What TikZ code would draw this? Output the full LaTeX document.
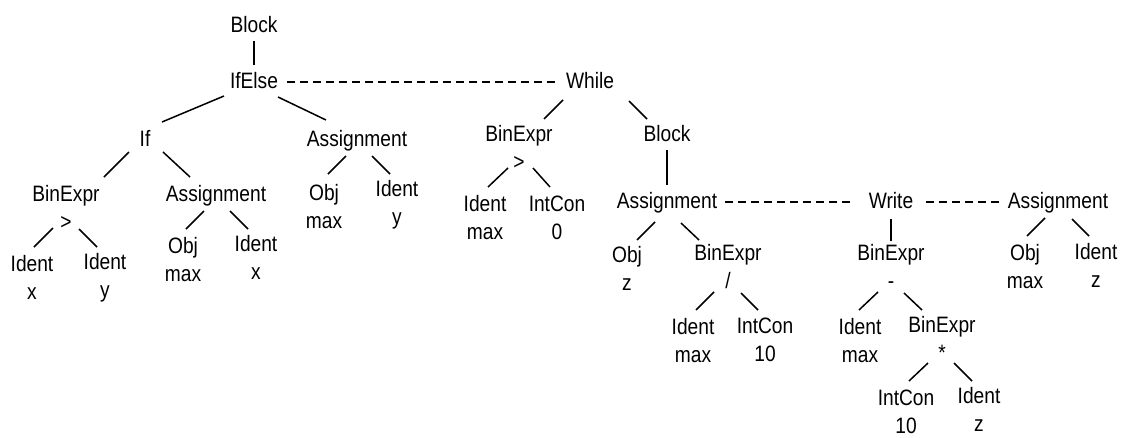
\documentclass[tikz,border=0pt]{standalone}
\usepackage{fontspec}
\setmainfont[FakeStretch=0.86]{Liberation Sans}
\tikzset{
    ast/.style={anchor=base, inner sep=2pt, text height=17pt, text depth=5pt,
        font=\fontsize{22.3pt}{27pt}\selectfont},
    edge/.style={line width=1.5pt},
    seq/.style={line width=1.5pt, dash pattern=on 8pt off 5pt,
        shorten <=7pt, shorten >=7pt}
}
\begin{document}
\begin{tikzpicture}[x=1pt, y=-1pt]
    \useasboundingbox (0,0) rectangle (1124,437);
    \node[ast] (root) at (254,32) {Block};
    \node[ast] (ifelse) at (254,88) {IfElse};
    \node[ast] (while) at (590,88) {While};
    \node[ast] (ifn) at (145,146) {If};
    \node[ast] (asgA) at (357,146) {Assignment};
    \node[ast] (binA) at (66,201) {BinExpr};
    \node[ast] (binAop) at ([yshift=-28pt]binA.base) {>};
    \node[ast] (asgB) at (216,201) {Assignment};
    \node[ast] (objA) at (324,200) {Obj};
    \node[ast] at ([yshift=-28pt]objA.base) {max};
    \node[ast] (idA) at (397,196) {Ident};
    \node[ast] at ([yshift=-28pt]idA.base) {y};
    \node[ast] (idX) at (32,271) {Ident};
    \node[ast] at ([yshift=-28pt]idX.base) {x};
    \node[ast] (idY) at (105,269) {Ident};
    \node[ast] at ([yshift=-28pt]idY.base) {y};
    \node[ast] (objB) at (183,253) {Obj};
    \node[ast] at ([yshift=-28pt]objB.base) {max};
    \node[ast] (idB) at (256,251) {Ident};
    \node[ast] at ([yshift=-28pt]idB.base) {x};

    \node[ast] (binW) at (519,141) {BinExpr};
    \node[ast] (binWop) at ([yshift=-28pt]binW.base) {>};
    \node[ast] (blkW) at (667,141) {Block};
    \node[ast] (idW) at (485,211) {Ident};
    \node[ast] at ([yshift=-28pt]idW.base) {max};
    \node[ast] (intW) at (557,211) {IntCon};
    \node[ast] at ([yshift=-28pt]intW.base) {0};
    \node[ast] (asgC) at (667,208) {Assignment};
    \node[ast] (write) at (891,208) {Write};
    \node[ast] (asgD) at (1058,208) {Assignment};
    \node[ast] (objC) at (627,262) {Obj};
    \node[ast] at ([yshift=-28pt]objC.base) {z};
    \node[ast] (binB) at (728,260) {BinExpr};
    \node[ast] (binBop) at ([yshift=-28pt]binB.base) {/};
    \node[ast] (idC) at (693,334) {Ident};
    \node[ast] at ([yshift=-28pt]idC.base) {max};
    \node[ast] (intC) at (765,333) {IntCon};
    \node[ast] at ([yshift=-28pt]intC.base) {10};
    \node[ast] (binC) at (891,260) {BinExpr};
    \node[ast] (binCop) at ([yshift=-28pt]binC.base) {-};
    \node[ast] (idD) at (860,334) {Ident};
    \node[ast] at ([yshift=-28pt]idD.base) {max};
    \node[ast] (binD) at (942,332) {BinExpr};
    \node[ast] (binDop) at ([yshift=-28pt]binD.base) {*};
    \node[ast] (intD) at (906,405) {IntCon};
    \node[ast] at ([yshift=-28pt]intD.base) {10};
    \node[ast] (idE) at (979,403) {Ident};
    \node[ast] at ([yshift=-28pt]idE.base) {z};
    \node[ast] (objD) at (1025,260) {Obj};
    \node[ast] at ([yshift=-28pt]objD.base) {max};
    \node[ast] (idF) at (1096,259) {Ident};
    \node[ast] at ([yshift=-28pt]idF.base) {z};

    \draw[edge, shorten <=2pt, shorten >=4pt] (root) -- (ifelse);
    \draw[edge, shorten <=2pt, shorten >=4pt] (blkW) -- (asgC);
    \draw[edge, shorten <=4pt, shorten >=0pt] (write) -- (binC);
    \draw[seq] (ifelse) -- (while);
    \draw[seq, shorten <=6pt, shorten >=12pt] (asgC) -- (write);
    \draw[seq, shorten <=11pt, shorten >=4pt] (write) -- (asgD);

    \draw[edge] ([shift={(-30,8)}]ifelse.base) -- ([shift={(17,-24)}]ifn.base);
    \draw[edge] ([shift={(24,9)}]ifelse.base) -- ([shift={(-31,-26)}]asgA.base);
    \draw[edge] ([shift={(-16,6)}]ifn.base) -- ([shift={(38,-24)}]binA.base);
    \draw[edge] ([shift={(18,6)}]ifn.base) -- ([shift={(-26,-24)}]asgB.base);
    \draw[edge] ([shift={(-13,-1)}]binAop.base) -- ([shift={(2,-24)}]idX.base);
    \draw[edge] ([shift={(13,0)}]binAop.base) -- ([shift={(-8,-22)}]idY.base);
    \draw[edge] ([shift={(-12,10)}]asgB.base) -- ([shift={(3,-24)}]objB.base);
    \draw[edge] ([shift={(14,10)}]asgB.base) -- ([shift={(-8,-22)}]idB.base);
    \draw[edge] ([shift={(-11,10)}]asgA.base) -- ([shift={(4,-26)}]objA.base);
    \draw[edge] ([shift={(15,10)}]asgA.base) -- ([shift={(-7,-22)}]idA.base);
    \draw[edge] ([shift={(-27,12)}]while.base) -- ([shift={(25,-22)}]binW.base);
    \draw[edge] ([shift={(39,13)}]while.base) -- ([shift={(-20,-22)}]blkW.base);
    \draw[edge] ([shift={(-11,-1)}]binWop.base) -- ([shift={(3,-24)}]idW.base);
    \draw[edge] ([shift={(14,-1)}]binWop.base) -- ([shift={(-7,-24)}]intW.base);
    \draw[edge] ([shift={(-12,14)}]asgC.base) -- ([shift={(10,-22)}]objC.base);
    \draw[edge] ([shift={(14,15)}]asgC.base) -- ([shift={(-29,-20)}]binB.base);
    \draw[edge] ([shift={(-14,4)}]binBop.base) -- ([shift={(3,-24)}]idC.base);
    \draw[edge] ([shift={(13,5)}]binBop.base) -- ([shift={(-7,-23)}]intC.base);
    \draw[edge] ([shift={(-13,4)}]binCop.base) -- ([shift={(-1,-24)}]idD.base);
    \draw[edge] ([shift={(13,5)}]binCop.base) -- ([shift={(-20,-22)}]binD.base);
    \draw[edge] ([shift={(-14,3)}]binDop.base) -- ([shift={(3,-24)}]intD.base);
    \draw[edge] ([shift={(12,3)}]binDop.base) -- ([shift={(-7,-22)}]idE.base);
    \draw[edge] ([shift={(-13,10)}]asgD.base) -- ([shift={(2,-24)}]objD.base);
    \draw[edge] ([shift={(14,11)}]asgD.base) -- ([shift={(-7,-23)}]idF.base);
\end{tikzpicture}
\end{document}
